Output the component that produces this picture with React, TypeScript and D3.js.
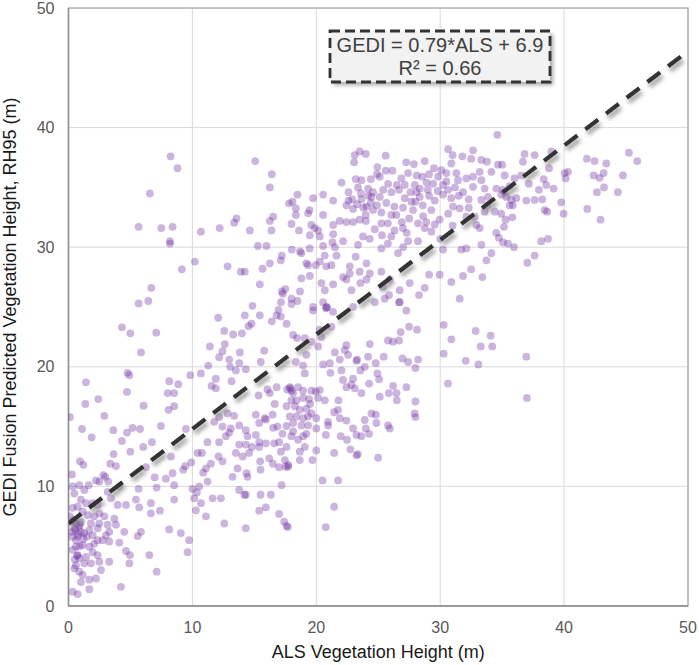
import React from 'react';
import * as d3 from 'd3';

// axis setup
const xTicks = [0, 10, 20, 30, 40, 50];
const yTicks = [0, 10, 20, 30, 40, 50];
const xTitle = 'ALS Vegetation Height (m)';
const yTitle = 'GEDI Fusion Predicted Vegetation Height, RH95 (m)';

// fitted line
const fitSlope = 0.79;
const fitIntercept = 6.9;
const fitLabel = 'GEDI = 0.79*ALS + 6.9';
const r2Label = 'R² = 0.66';

// [ALS, GEDI] pairs, grouped by area
const lowCluster: [number, number][] = [
  [0.12, 7.5], [0.34, 7.05], [0.6, 6.9], [0.87, 6.6], [0.55, 6.35], [1.0, 6.2], [0.74, 5.8], [0.28, 5.8],
  [1.28, 6.1], [1.68, 6.35], [1.47, 5.8], [1.95, 5.9], [1.81, 6.9], [2.08, 7.5], [2.49, 7.75], [2.35, 8.45],
  [1.95, 8.6], [1.41, 8.6], [1.0, 8.9], [0.74, 8.3], [0.34, 8.2], [1.14, 7.9], [1.55, 7.6], [2.49, 6.9],
  [2.35, 6.5], [2.89, 7.5], [3.16, 6.8], [3.29, 6.2], [3.02, 5.9], [2.76, 5.5], [2.35, 5.5], [2.08, 5.2],
  [1.68, 4.96], [1.14, 5.1], [0.6, 4.96], [0.34, 4.7], [0.74, 4.26], [0.87, 4.0], [1.41, 4.1], [1.95, 4.5],
  [2.35, 4.26], [1.81, 3.57], [1.28, 3.57], [0.6, 3.4], [0.87, 2.87], [1.14, 2.6], [1.68, 2.2], [1.0, 2.0],
  [2.22, 2.3], [2.62, 3.0], [3.29, 3.7], [2.49, 3.7], [0.47, 3.15], [0.34, 1.2], [0.74, 1.0], [1.68, 1.4],
  [4.23, 1.6], [4.64, 4.6], [4.96, 4.26], [4.91, 3.57], [5.58, 5.85], [5.85, 6.2], [6.52, 4.26], [7.11, 2.87],
  [8.13, 6.4], [9.07, 6.1], [9.74, 5.5], [9.61, 4.5], [3.7, 7.3], [3.83, 6.8], [4.5, 6.2], [4.64, 8.45],
  [3.97, 8.45], [3.43, 9.0], [5.44, 8.9], [5.71, 8.25], [6.65, 8.6], [7.38, 7.97], [6.65, 7.75], [4.1, 5.3],
  [3.29, 5.4], [0.5, 6.5], [0.8, 6.0], [0.6, 5.5], [1.0, 7.0], [0.3, 6.2], [0.9, 5.0], [0.7, 4.2],
  [0.5, 3.9], [0.9, 6.8], [0.45, 7.2], [1.2, 5.6],
];

const shrubScatter: [number, number][] = [
  [2.4, 17.3], [1.36, 16.9], [4.72, 17.9], [6.06, 16.75], [8.0, 17.8], [8.53, 17.8], [8.53, 16.7], [8.08, 16.4],
  [0.12, 15.8], [2.89, 15.9], [1.09, 14.8], [1.87, 14.1], [3.62, 14.7], [4.72, 14.5], [5.17, 14.9], [5.77, 14.8],
  [7.46, 15.05], [4.31, 13.8], [6.03, 13.3], [6.73, 13.7], [4.99, 12.9], [3.64, 12.7], [3.83, 11.7], [3.37, 11.9],
  [0.93, 12.1], [1.2, 11.8], [0.28, 11.0], [2.81, 10.95], [2.97, 10.8], [3.21, 10.4], [2.49, 10.4], [2.22, 10.5],
  [1.63, 10.1], [0.87, 10.1], [0.34, 10.0], [0.47, 9.4], [1.28, 9.7], [3.16, 9.55], [4.1, 10.0], [5.66, 9.8],
  [7.11, 9.9], [6.95, 10.75], [6.25, 11.6], [7.86, 10.65], [8.4, 11.1], [8.53, 10.1], [8.53, 8.9], [8.27, 12.5],
  [9.26, 11.4], [9.42, 11.7], [9.91, 12.0], [9.48, 14.8], [10.01, 9.8], [10.36, 9.5], [10.69, 8.6], [11.63, 9.0],
  [12.3, 9.0], [10.42, 12.8], [10.77, 12.8], [11.22, 13.7], [11.09, 11.5], [10.87, 11.15], [11.49, 11.9], [12.11, 12.5],
  [12.43, 12.1], [12.16, 13.7], [12.7, 14.2], [12.97, 14.5], [13.1, 14.85], [12.43, 15.0], [11.76, 15.4], [12.16, 15.8],
  [12.84, 16.1], [13.37, 15.9], [13.78, 15.1], [14.31, 14.7], [14.45, 14.2], [15.12, 14.3], [15.39, 15.3], [15.93, 15.6],
  [16.47, 16.0], [16.87, 15.0], [17.27, 14.4], [17.0, 13.7], [16.6, 13.6], [15.93, 13.6], [15.39, 13.7], [14.8, 13.3],
  [14.31, 13.5], [13.78, 13.5], [13.51, 12.8], [14.05, 12.5], [14.58, 12.8], [15.39, 13.3], [15.47, 12.1], [16.2, 12.35],
  [17.14, 12.9], [17.54, 11.65], [17.0, 11.6], [13.64, 11.5], [14.45, 10.8], [13.24, 10.8], [13.78, 9.7], [14.31, 9.3],
  [16.33, 9.3], [15.39, 7.97], [15.93, 8.25], [17.0, 7.7], [17.41, 7.05], [14.31, 6.5], [12.57, 6.9], [11.09, 7.5],
  [10.28, 8.0], [10.55, 10.0], [10.15, 9.0], [11.22, 10.4], [16.65, 16.9], [15.12, 16.0], [15.84, 15.7], [16.52, 14.9],
  [14.37, 11.1], [15.5, 11.4], [17.73, 11.65], [17.2, 10.1], [14.2, 9.3], [15.5, 9.3], [17.46, 12.2], [16.5, 11.9],
  [17.7, 6.6], [17.6, 6.7],
];

const sparseUpper: [number, number][] = [
  [8.24, 37.6], [8.8, 36.6], [15.07, 37.2], [16.41, 36.1], [16.25, 35.0], [6.57, 34.5], [5.66, 31.7], [7.49, 31.6],
  [8.4, 31.7], [8.19, 30.5], [8.19, 30.3], [10.69, 31.3], [12.2, 31.6], [13.37, 32.05], [13.56, 32.4], [14.64, 31.4],
  [16.25, 32.2], [16.52, 32.55], [16.38, 31.4], [15.28, 30.1], [15.98, 30.1], [17.22, 29.3], [17.14, 28.9], [16.25, 28.65],
  [15.66, 28.2], [10.2, 28.8], [9.15, 28.15], [12.84, 28.4], [13.91, 27.95], [14.23, 27.95], [15.44, 26.9], [17.22, 26.3],
  [6.68, 26.6], [5.66, 25.3], [6.44, 25.5], [4.31, 23.3], [4.99, 22.8], [7.08, 22.85], [5.85, 21.2], [12.08, 24.1],
  [14.85, 25.1], [14.23, 24.3], [15.44, 24.3], [14.53, 23.4], [14.77, 23.6], [16.41, 23.8], [16.79, 24.3], [16.95, 24.75],
  [17.14, 24.2], [12.57, 23.0], [13.29, 22.7], [14.0, 22.8], [11.41, 21.7], [12.62, 21.9], [12.43, 21.3], [12.16, 20.8],
  [12.97, 20.6], [13.83, 21.2], [13.78, 20.3], [15.79, 21.35], [15.52, 20.4], [14.31, 19.8], [13.51, 19.7], [13.05, 20.0],
  [11.28, 20.1], [10.69, 19.45], [9.83, 19.3], [4.77, 19.5], [4.91, 19.3], [1.41, 18.7], [8.13, 18.8], [8.86, 18.55],
  [11.89, 19.0], [11.55, 18.4], [11.89, 18.2], [13.16, 18.8], [15.34, 17.6], [16.06, 18.1], [16.8, 18.3], [16.25, 17.8],
  [17.8, 33.67], [18.08, 33.8], [18.48, 34.4], [18.35, 33.25], [18.35, 32.7], [18.0, 31.94], [19.34, 32.83], [19.48, 31.0],
  [20.15, 31.4], [20.55, 30.1], [21.5, 30.0], [18.6, 31.4], [18.02, 29.8], [18.68, 29.65], [18.8, 27.4], [19.48, 27.6],
  [19.34, 28.5], [18.68, 26.3], [18.0, 25.7], [18.48, 25.5], [20.77, 24.9], [21.35, 24.6], [20.69, 26.4], [17.3, 26.1],
  [17.5, 26.5], [17.15, 25.4],
];

const midCanopy: [number, number][] = [
  [18.0, 25.25], [19.74, 24.7], [20.87, 24.97], [17.6, 23.6], [18.13, 22.66], [18.45, 22.4], [19.07, 22.4], [19.61, 22.1],
  [20.28, 23.1], [21.22, 23.35], [20.15, 21.7], [20.4, 22.5], [19.2, 21.0], [18.35, 20.4], [18.94, 20.1], [19.07, 19.45],
  [22.43, 21.8], [22.3, 21.4], [21.9, 20.6], [21.5, 21.2], [22.57, 21.0], [23.24, 20.5], [23.3, 20.6], [24.18, 20.85],
  [24.32, 21.9], [24.8, 20.3], [25.44, 20.85], [25.79, 22.2], [26.19, 22.1], [26.68, 22.2], [26.95, 20.7], [27.41, 20.4],
  [28.22, 20.6], [28.0, 19.9], [26.81, 22.9], [27.49, 23.35], [28.13, 23.1], [27.27, 24.7], [26.68, 25.4], [30.28, 23.5],
  [30.9, 22.3], [30.28, 21.1], [30.63, 18.6], [20.55, 20.2], [21.09, 20.3], [21.14, 19.5], [22.03, 19.7], [22.16, 18.9],
  [22.97, 19.0], [22.83, 18.5], [22.43, 18.3], [23.11, 18.2], [23.64, 17.8], [23.56, 19.7], [23.91, 20.0], [24.26, 18.6],
  [24.93, 19.45], [25.07, 18.95], [25.12, 17.5], [25.85, 17.8], [26.2, 18.4], [26.47, 17.8], [26.5, 17.2], [27.27, 18.3],
  [28.0, 17.1], [27.94, 16.1], [28.0, 15.8], [25.79, 15.1], [25.93, 14.85], [24.8, 16.0], [24.85, 15.3], [24.45, 16.1],
  [23.91, 15.55], [24.0, 14.85], [24.26, 14.4], [23.64, 14.2], [23.24, 14.3], [22.97, 14.85], [22.43, 15.5], [21.9, 15.7],
  [21.44, 16.2], [20.95, 15.4], [20.77, 14.3], [21.97, 14.2], [22.48, 13.9], [22.75, 13.1], [23.24, 12.6], [23.35, 12.7],
  [21.44, 12.8], [20.0, 13.0], [19.69, 12.2], [24.99, 12.4], [21.76, 16.4], [21.79, 17.2], [20.5, 10.5], [21.76, 10.5],
  [21.44, 8.3], [20.76, 6.6], [17.65, 18.1], [17.86, 18.3], [18.13, 17.8], [18.53, 18.3], [18.94, 18.0], [19.42, 17.3],
  [19.61, 18.0], [19.96, 17.95], [20.28, 18.05], [20.69, 17.2], [20.15, 17.4], [18.94, 17.4], [18.4, 17.2], [17.99, 17.2],
  [17.6, 16.7], [18.27, 16.7], [18.67, 16.4], [19.2, 16.5], [19.61, 16.1], [20.0, 15.7], [19.34, 15.85], [18.94, 15.7],
  [18.4, 15.85], [17.86, 15.85], [18.13, 15.3], [18.8, 15.1], [19.34, 15.1], [17.6, 15.05], [18.13, 14.6], [18.94, 14.2],
  [19.2, 14.4], [18.53, 13.9], [17.99, 14.2], [19.07, 13.3], [18.67, 12.9], [20.0, 14.85], [20.95, 15.1], [17.6, 13.3],
  [17.73, 11.8], [18.67, 12.2], [17.9, 18.2], [18.0, 18.0], [19.5, 16.9],
];

const tallCanopy: [number, number][] = [
  [30.64, 38.2], [23.5, 38.0], [23.1, 37.7], [23.99, 37.8], [23.05, 37.1], [25.6, 37.65], [28.75, 37.2], [27.26, 37.1],
  [27.88, 36.95], [31.0, 37.7], [31.79, 37.6], [32.65, 38.1], [32.5, 37.4], [33.32, 37.3], [33.78, 37.15], [34.61, 39.4],
  [30.9, 37.0], [24.93, 36.7], [25.6, 36.4], [26.14, 36.4], [25.12, 35.9], [24.9, 36.1], [26.87, 35.76], [27.41, 36.2],
  [28.1, 36.0], [28.56, 35.9], [29.1, 36.1], [29.83, 35.9], [30.09, 36.45], [30.5, 36.2], [31.3, 36.2], [31.44, 35.6],
  [32.11, 35.75], [32.65, 35.9], [33.19, 36.3], [33.32, 35.6], [34.13, 36.3], [34.66, 36.9], [22.03, 35.4], [23.18, 35.7],
  [23.64, 35.6], [23.37, 35.0], [24.18, 34.9], [24.58, 34.6], [26.06, 34.6], [26.68, 34.8], [27.14, 35.2], [27.95, 35.2],
  [28.35, 34.9], [29.42, 35.3], [30.23, 35.2], [30.64, 34.8], [31.84, 34.6], [32.65, 35.05], [33.59, 34.9], [34.53, 34.9],
  [20.55, 34.4], [19.74, 34.1], [21.36, 33.9], [22.43, 33.5], [22.97, 33.2], [23.64, 34.0], [24.05, 33.4], [24.45, 34.2],
  [25.12, 34.2], [25.65, 33.7], [24.58, 33.1], [25.25, 32.9], [26.06, 32.7], [26.46, 32.7], [27.14, 34.1], [27.68, 33.8],
  [28.35, 34.2], [27.81, 33.1], [28.62, 32.6], [29.29, 33.1], [29.56, 33.9], [30.23, 34.4], [30.9, 34.1], [31.57, 33.25],
  [31.03, 33.4], [30.64, 32.8], [29.96, 32.3], [29.56, 31.9], [28.88, 32.1], [28.21, 32.0], [32.11, 32.55], [32.78, 32.55],
  [33.32, 33.95], [33.86, 34.2], [34.4, 32.97], [33.59, 32.97], [32.92, 31.86], [33.19, 31.6], [23.99, 32.7], [23.5, 32.3],
  [22.97, 32.1], [22.43, 32.1], [21.89, 32.2], [21.36, 31.86], [20.55, 32.7], [19.46, 33.1], [19.6, 31.86], [20.28, 30.9],
  [19.87, 31.6], [19.46, 29.9], [18.8, 29.5], [24.72, 31.5], [25.25, 32.0], [25.78, 32.0], [26.32, 31.4], [26.99, 31.6],
  [25.3, 31.0], [26.06, 30.9], [23.77, 30.9], [24.31, 30.7], [22.16, 30.5], [21.36, 31.1], [21.3, 30.4], [21.63, 29.3],
  [20.68, 29.3], [20.28, 28.8], [20.8, 28.4], [19.96, 28.5], [19.2, 28.65], [21.22, 28.5], [23.37, 30.2], [23.18, 29.2],
  [25.25, 29.9], [25.78, 30.3], [26.6, 29.5], [27.01, 30.0], [27.41, 30.5], [28.21, 30.5], [28.75, 31.6], [29.29, 31.3],
  [30.23, 29.8], [31.71, 29.8], [32.11, 29.9], [33.32, 30.2], [34.13, 29.5], [33.73, 28.9], [22.7, 28.4], [24.05, 28.65],
  [22.16, 27.5], [23.5, 27.95], [22.7, 27.8], [24.32, 27.8], [22.43, 27.3], [23.56, 27.0], [22.84, 26.4], [24.05, 27.3],
  [25.25, 27.95], [25.93, 27.3], [25.4, 26.7], [26.73, 26.4], [25.87, 26.0], [27.54, 27.0], [29.1, 27.7], [29.96, 27.7],
  [30.9, 27.1], [31.84, 27.6], [28.29, 26.0], [28.75, 26.6], [31.57, 25.7], [21.36, 26.9], [20.41, 27.0], [20.55, 25.4],
  [19.74, 25.0], [20.82, 25.0], [22.97, 25.0], [26.73, 25.4], [24.72, 25.4], [25.52, 25.7], [33.4, 27.5], [32.5, 28.15],
  [24.2, 34.3], [28.1, 34.6], [29.0, 34.8], [31.2, 35.0], [22.6, 33.9], [27.5, 32.4],
  [22.9, 34.0], [23.3, 33.6], [23.8, 33.3], [24.4, 33.7], [24.9, 33.5], [23.6, 34.5], [22.6, 34.6], [25.4, 34.8],
  [24.0, 32.2], [26.3, 33.4], [27.0, 33.3], [27.6, 34.6], [28.0, 33.8], [28.6, 33.5], [29.1, 34.3], [29.8, 34.7],
  [28.9, 35.4], [29.5, 36.6], [30.5, 35.5], [31.5, 34.3], [32.3, 34.0], [31.0, 31.8], [32.3, 33.3], [33.8, 33.5],
  [26.5, 35.2], [25.8, 35.3], [24.4, 35.7], [26.9, 32.1], [27.3, 31.2], [30.0, 30.7],
];

const tallestCanopy: [number, number][] = [
  [35.2, 36.0], [36.0, 35.75], [36.55, 36.0], [37.16, 35.3], [37.97, 34.8], [38.35, 35.7], [38.56, 35.2], [38.78, 36.6],
  [39.15, 34.9], [36.81, 37.8], [37.62, 37.7], [38.97, 38.0], [36.68, 37.15], [40.04, 36.2], [40.31, 36.3], [40.12, 35.75],
  [41.84, 37.4], [42.46, 37.2], [43.4, 37.0], [42.38, 36.0], [42.87, 35.8], [43.19, 36.2], [44.75, 36.0], [45.23, 37.9],
  [45.9, 37.2], [43.22, 35.0], [42.65, 34.6], [44.34, 34.6], [41.87, 33.2], [42.94, 32.3], [39.77, 33.75], [39.96, 32.8],
  [38.43, 33.1], [38.63, 32.97], [38.24, 34.0], [37.62, 33.95], [36.95, 33.9], [36.14, 34.1], [35.74, 33.95], [35.6, 33.5],
  [35.87, 33.5], [35.33, 34.2], [34.93, 34.4], [35.06, 34.8], [35.6, 35.1], [34.93, 32.8], [35.28, 32.3], [35.82, 32.5],
  [35.15, 31.7], [34.53, 31.2], [34.74, 30.8], [35.07, 30.4], [35.47, 30.3], [35.95, 30.0], [38.16, 30.5], [38.7, 30.7],
  [37.62, 29.3], [37.03, 28.7], [32.06, 20.5], [33.08, 20.2], [33.27, 21.7], [34.2, 21.7], [34.07, 22.6], [36.95, 20.85],
  [37.0, 17.4], [32.86, 23.0], [35.0, 36.9], [35.2, 34.6],
];

const points = [...lowCluster, ...shrubScatter, ...sparseUpper, ...midCanopy, ...tallCanopy, ...tallestCanopy];

const W = 699;
const H = 665;
const margin = { top: 8, right: 11, bottom: 59, left: 68.5 };
const font = '"Liberation Sans", Arial, Helvetica, sans-serif';

export default function App() {
  const x = d3.scaleLinear().domain([0, 50]).range([margin.left, W - margin.right]);
  const y = d3.scaleLinear().domain([0, 50]).range([H - margin.bottom, margin.top]);
  const [x0, x1] = x.range();
  const [y0, y1] = y.range();

  const fit = d3.line<number>()
    .x(d => x(d))
    .y(d => y(fitSlope * d + fitIntercept));
  const fitPath = fit([0, 50]) || '';

  // annotation box
  const box = { x: 330, y: 31, w: 220, h: 51 };

  return (
    <svg width={W} height={H} style={{ position: 'absolute', left: 0, top: 0, background: '#fff' }}
      fontFamily={font}>
      <defs>
        <filter id="blurShadow" x="-20%" y="-20%" width="140%" height="140%">
          <feGaussianBlur stdDeviation="2.2" />
        </filter>
        <clipPath id="plotClip">
          <rect x={x0} y={y1} width={x1 - x0} height={y0 - y1} />
        </clipPath>
      </defs>

      {/* grid */}
      {xTicks.map(t => (
        <line key={'gx' + t} x1={x(t)} x2={x(t)} y1={y0} y2={y1} stroke="#d9d9d9" strokeWidth={1} />
      ))}
      {yTicks.map(t => (
        <line key={'gy' + t} x1={x0} x2={x1} y1={y(t)} y2={y(t)} stroke="#d9d9d9" strokeWidth={1} />
      ))}

      {/* frame */}
      <rect x={x0} y={y1} width={x1 - x0} height={y0 - y1} fill="none" stroke="#a6a6a6" strokeWidth={1.2} />
      <line x1={x0} x2={x0} y1={y1} y2={y0} stroke="#8c8c8c" strokeWidth={1.5} />
      <line x1={x0} x2={x1} y1={y0} y2={y0} stroke="#8c8c8c" strokeWidth={1.5} />

      {/* points */}
      <g clipPath="url(#plotClip)">
        {points.map((p, i) => (
          <circle key={i} cx={x(p[0])} cy={y(p[1])} r={3.9} fill="#7030a0" fillOpacity={0.36} />
        ))}
      </g>

      {/* regression line with shadow */}
      <g clipPath="url(#plotClip)">
        <path d={fitPath} transform="translate(2,4)" stroke="#8a8a8a" strokeWidth={5} strokeDasharray="16 10"
          fill="none" filter="url(#blurShadow)" opacity={0.8} />
        <path d={fitPath} stroke="#333333" strokeWidth={4.2} strokeDasharray="16 10" fill="none" />
      </g>

      {/* annotation */}
      <rect x={box.x + 3} y={box.y + 3} width={box.w} height={box.h} fill="#7f7f7f" filter="url(#blurShadow)" opacity={0.7} />
      <rect x={box.x} y={box.y} width={box.w} height={box.h} fill="#f2f2f2" stroke="#333333" strokeWidth={2.8}
        strokeDasharray="10 5" />
      <text x={box.x + box.w / 2} y={box.y + 21} textAnchor="middle" fontSize={20} fill="#404040">{fitLabel}</text>
      <text x={box.x + box.w / 2} y={box.y + 44} textAnchor="middle" fontSize={20} fill="#404040">{r2Label}</text>

      {/* x ticks */}
      {xTicks.map(t => (
        <text key={'tx' + t} x={x(t)} y={y0 + 27} textAnchor="middle" fontSize={16} fill="#595959">{t}</text>
      ))}
      {/* y ticks */}
      {yTicks.map(t => (
        <text key={'ty' + t} x={x0 - 14} y={y(t)} dy="0.35em" textAnchor="end" fontSize={16} fill="#595959">{t}</text>
      ))}

      {/* titles */}
      <text x={(x0 + x1) / 2} y={H - 7} textAnchor="middle" fontSize={18} fill="#1a1a1a">{xTitle}</text>
      <text transform={`translate(16,${(y0 + y1) / 2}) rotate(-90)`} textAnchor="middle" fontSize={18} fill="#1a1a1a">
        {yTitle}
      </text>
    </svg>
  );
}
